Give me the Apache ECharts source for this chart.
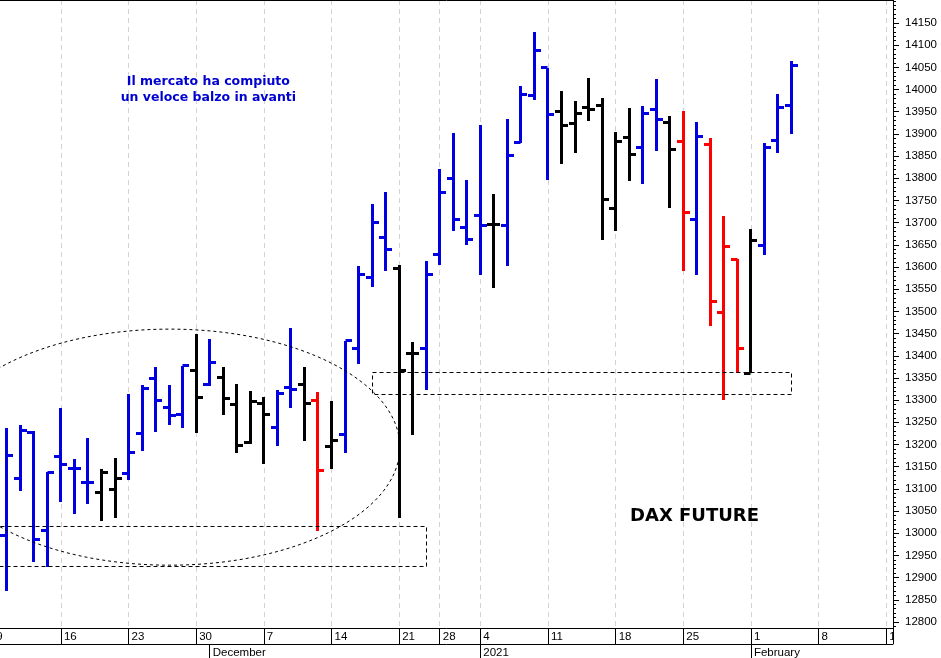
<!DOCTYPE html>
<html>
<head>
<meta charset="utf-8">
<script src="https://cdn.jsdelivr.net/npm/echarts@6/dist/echarts.min.js"></script>
<style>
html,body{margin:0;padding:0;background:#fff;}
#c{width:941px;height:658px;}
</style>
</head>
<body>
<div id="c"></div>
<script>
// ---- trading days (bars) ----
const days = [
 '2020-11-10','2020-11-11','2020-11-12','2020-11-13',
 '2020-11-16','2020-11-17','2020-11-18','2020-11-19','2020-11-20',
 '2020-11-23','2020-11-24','2020-11-25','2020-11-26','2020-11-27',
 '2020-11-30','2020-12-01','2020-12-02','2020-12-03','2020-12-04',
 '2020-12-07','2020-12-08','2020-12-09','2020-12-10','2020-12-11',
 '2020-12-14','2020-12-15','2020-12-16','2020-12-17','2020-12-18',
 '2020-12-21','2020-12-22','2020-12-23',
 '2020-12-28','2020-12-29','2020-12-30',
 '2021-01-04','2021-01-05','2021-01-06','2021-01-07','2021-01-08',
 '2021-01-11','2021-01-12','2021-01-13','2021-01-14','2021-01-15',
 '2021-01-18','2021-01-19','2021-01-20','2021-01-21','2021-01-22',
 '2021-01-25','2021-01-26','2021-01-27','2021-01-28','2021-01-29',
 '2021-02-01','2021-02-02','2021-02-03','2021-02-04'
];
// empty trading days shown on the right of the chart
const futureDays = ['2021-02-05','2021-02-08','2021-02-09','2021-02-10','2021-02-11','2021-02-12','2021-02-15'];

const open = [12996,13124,13227,13006,13173,13145,13115,13092,13098,13135,13225,13349,13284,13267,13366,13336,13352,13291,13204,13293,13238,13329,13336,13300,13195,13223,13417,13577,13667,13596,13404,13417,13629,13800,13689,13717,13695,13693,13880,13986,14049,13950,13924,13960,13965,13731,13892,13869,13956,13926,13884,13708,13877,13498,13618,13361,13648,13885,13965];
const high = [13238,13244,13230,13137,13282,13167,13214,13145,13170,13313,13334,13375,13333,13378,13448,13437,13375,13336,13321,13306,13323,13462,13374,13318,13299,13434,13603,13742,13768,13605,13432,13614,13821,13901,13795,13920,13764,13934,14008,14129,14049,13997,13974,14027,13982,13905,13958,13964,14023,13940,13952,13926,13890,13715,13618,13685,13880,13989,14065];
const low  = [12870,13095,12935,12925,13070,13043,13066,13028,13034,13120,13185,13229,13244,13238,13225,13332,13267,13180,13200,13155,13197,13282,13208,13005,13145,13180,13381,13556,13591,13034,13221,13323,13605,13682,13650,13582,13553,13603,13880,13977,13796,13832,13856,13928,13661,13681,13794,13787,13862,13732,13591,13582,13467,13300,13362,13361,13627,13856,13899];
const close= [13176,13231,12985,13137,13154,13145,13115,13136,13124,13182,13327,13300,13265,13378,13306,13384,13303,13197,13297,13267,13314,13323,13293,13141,13209,13434,13584,13700,13640,13366,13404,13584,13768,13708,13663,13693,13695,13851,13988,14089,13943,13920,13945,13956,13753,13884,13853,13945,13933,13864,13723,13894,13523,13646,13417,13659,13870,13960,14055];
// bar colouring signal: u = up (blue), n = neutral (black), d = down (red)
const trend = ['u','u','u','u','u','u','u','n','n','u','u','u','u','u','n','u','n','n','n','n','u','u','n','d','n','u','u','u','u','n','n','u','u','u','u','u','n','u','u','u','u','n','n','n','n','n','n','u','u','n','d','u','d','d','d','n','u','u','u'];

const monthLabels = ['December','2021','February'];
const firstWeekLabel = '9';
const priceLabels = []; for (let v = 12800; v <= 14150; v += 50) priceLabels.push(v);
const priceMinor = []; for (let v = 12790; v <= 14200; v += 10) priceMinor.push(v);

// annotation zones in data coordinates (bar index, price)
const ellipseZone = {x0: -4.95, x1: 29.05, y0: 12928, y1: 13460};
const boxZones = [
  {x0: -1.5, x1: 31, y0: 12927, y1: 13017},
  {x0: 27, x1: 58, y0: 13313, y1: 13363}
];
const noteText = {x: 14.9, y: 14000, text: 'Il mercato ha compiuto\nun veloce balzo in avanti'};
const titleText = {x: 50.83, y: 13037, text: 'DAX FUTURE'};

// ---- derived ----
const allDays = days.concat(futureDays);
const dayObj = allDays.map(d => new Date(d + 'T00:00:00Z'));
const weekIdx = [], monthIdx = [];
for (let i = 1; i < allDays.length; i++) {
  if (dayObj[i].getUTCDay() < dayObj[i-1].getUTCDay()) weekIdx.push(i);
  if (dayObj[i].getUTCMonth() !== dayObj[i-1].getUTCMonth()) monthIdx.push(i);
}
const colors = {u: '#0000E0', n: '#000000', d: '#FF0000'};
const data = days.map((d, i) => [i, open[i], high[i], low[i], close[i]]);
const xMin = -0.5, xMax = allDays.length - 0.5;
const yMin = 12786.4, yMax = 14201.8;
const axisFont = "'Liberation Sans', Arial, sans-serif";

const chart = echarts.init(document.getElementById('c'), null, {renderer: 'canvas'});

function renderOHLC(params, api) {
  const x = api.value(0);
  const ph = api.coord([x, api.value(2)]);
  const pl = api.coord([x, api.value(3)]);
  const po = api.coord([x, api.value(1)]);
  const pc = api.coord([x, api.value(4)]);
  const col = colors[trend[params.dataIndex]];
  const cx = Math.round(ph[0] - 0.5) + 0.5;
  const oy = Math.round(po[1] - 0.5) + 0.5;
  const cy = Math.round(pc[1] - 0.5) + 0.5;
  const t = 6.5;
  return {
    type: 'group',
    children: [
      {type: 'line', shape: {x1: cx, y1: Math.round(ph[1]), x2: cx, y2: Math.round(pl[1])}, style: {stroke: col, lineWidth: 3}},
      {type: 'line', shape: {x1: cx - t, y1: oy, x2: cx, y2: oy}, style: {stroke: col, lineWidth: 3}},
      {type: 'line', shape: {x1: cx, y1: cy, x2: cx + t, y2: cy}, style: {stroke: col, lineWidth: 3}}
    ]
  };
}

const dayLabel = v => {
  const d = allDays[Math.round(v)];
  return d ? String(parseInt(d.slice(8), 10)) : '';
};

chart.setOption({
  animation: false,
  backgroundColor: '#ffffff',
  grid: {left: 0, right: 48, top: 0, bottom: 30, containLabel: false, outerBoundsMode: 'none'},
  xAxis: [
    {
      type: 'value', min: xMin, max: xMax, position: 'bottom', offset: 0,
      axisLine: {show: true, onZero: false, lineStyle: {color: '#000', width: 1}},
      axisTick: {show: true, inside: false, length: 16, customValues: weekIdx, lineStyle: {color: '#000', width: 1}},
      axisLabel: {show: true, customValues: weekIdx, formatter: dayLabel, align: 'left', margin: 3,
        padding: [0, 0, 0, 3], fontSize: 11.5, fontFamily: axisFont, color: '#000'},
      splitLine: {show: true, lineStyle: {color: '#d2d2d2', type: [5, 4], width: 1}}
    },
    {
      type: 'value', min: xMin, max: xMax, position: 'bottom', offset: 16,
      axisLine: {show: true, onZero: false, lineStyle: {color: '#000', width: 1}},
      axisTick: {show: true, inside: false, length: 14, customValues: monthIdx, lineStyle: {color: '#000', width: 1}},
      axisLabel: {show: true, customValues: monthIdx, formatter: v => monthLabels[monthIdx.indexOf(Math.round(v))] || '',
        align: 'left', margin: 3, padding: [0, 0, 0, 3], fontSize: 11.5, fontFamily: axisFont, color: '#000'},
      splitLine: {show: false}
    }
  ],
  yAxis: [
    {
      type: 'value', min: yMin, max: yMax, position: 'right', offset: 0,
      axisLine: {show: true, onZero: false, lineStyle: {color: '#000', width: 1}},
      axisTick: {show: true, inside: false, length: 6, customValues: priceLabels, lineStyle: {color: '#000'}},
      axisLabel: {show: true, customValues: priceLabels, formatter: v => String(Math.round(v)), margin: 12,
        fontSize: 11.5, fontFamily: axisFont, color: '#000'},
      splitLine: {show: false}
    },
    {
      type: 'value', min: yMin, max: yMax, position: 'right', offset: 0,
      axisLine: {show: false, onZero: false},
      axisTick: {show: true, inside: false, length: 3, customValues: priceMinor, lineStyle: {color: '#000'}},
      axisLabel: {show: false},
      splitLine: {show: false}
    }
  ],
  series: [{
    type: 'custom', name: 'DAX Future', xAxisIndex: 0, yAxisIndex: 0,
    renderItem: renderOHLC, data: data, clip: true,
    encode: {x: 0, y: [1, 2, 3, 4]}
  }]
});

// ---- annotations drawn from data coordinates ----
const P = (x, y) => chart.convertToPixel({xAxisIndex: 0, yAxisIndex: 0}, [x, y]);
const g = [];
const e0 = P(ellipseZone.x0, ellipseZone.y1), e1 = P(ellipseZone.x1, ellipseZone.y0);
g.push({type: 'ellipse', z: 50, silent: true,
  shape: {cx: (e0[0] + e1[0]) / 2, cy: (e0[1] + e1[1]) / 2, rx: (e1[0] - e0[0]) / 2, ry: (e1[1] - e0[1]) / 2},
  style: {fill: null, stroke: '#000', lineWidth: 1, lineDash: [3, 3]}});
boxZones.forEach(b => {
  const a = P(b.x0, b.y1), c = P(b.x1, b.y0);
  g.push({type: 'rect', z: 50, silent: true,
    shape: {x: Math.round(a[0]) + 0.5, y: Math.round(a[1]) + 0.5, width: Math.round(c[0] - a[0]), height: Math.round(c[1] - a[1])},
    style: {fill: null, stroke: '#000', lineWidth: 1, lineDash: [4, 3]}});
});
const np = P(noteText.x, noteText.y);
g.push({type: 'text', z: 60, silent: true, x: np[0], y: np[1],
  style: {text: noteText.text, fill: '#0000D0', font: "bold 12.5px 'DejaVu Sans', Verdana, sans-serif",
    align: 'center', verticalAlign: 'middle', lineHeight: 16}});
const tp = P(titleText.x, titleText.y);
g.push({type: 'text', z: 60, silent: true, x: tp[0], y: tp[1],
  style: {text: titleText.text, fill: '#000', font: "bold 18px 'DejaVu Sans', Verdana, sans-serif",
    align: 'center', verticalAlign: 'middle'}});
// frame pieces
const gr = P(xMax, yMin);
g.push({type: 'line', z: 60, silent: true, shape: {x1: 0, y1: 0.5, x2: gr[0], y2: 0.5}, style: {stroke: '#000', lineWidth: 1}});
// clip the last week label at the price axis
g.push({type: 'rect', z: 70, silent: true, shape: {x: Math.round(gr[0]) + 1, y: Math.round(gr[1]) + 1, width: 60, height: 40}, style: {fill: '#fff'}});
g.push({type: 'line', z: 71, silent: true, shape: {x1: Math.round(gr[0]) + 0.5, y1: gr[1], x2: Math.round(gr[0]) + 0.5, y2: gr[1] + 16}, style: {stroke: '#000', lineWidth: 1}});
// partially visible label of the week of the 9th (tick left of the plot)
const w9 = P(-1, yMin);
g.push({type: 'text', z: 60, silent: true, x: w9[0] + 3, y: w9[1] + 3,
  style: {text: firstWeekLabel, fill: '#000', font: "11.5px " + axisFont, align: 'left', verticalAlign: 'top'}});
chart.setOption({graphic: g});
</script>
</body>
</html>
